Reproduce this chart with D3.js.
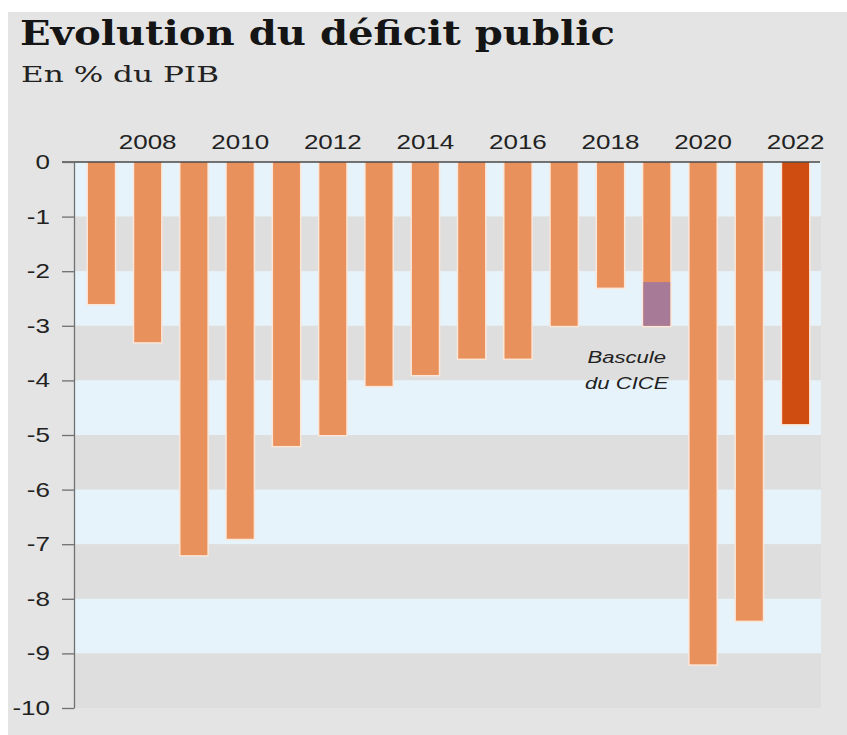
<!DOCTYPE html>
<html>
<head>
<meta charset="utf-8">
<script src="https://cdn.jsdelivr.net/npm/d3@7"></script>
<style>
  body { margin: 0; background: #ffffff; }
  svg { display: block; }
</style>
</head>
<body>
<svg id="chart" width="847" height="735"></svg>
<script>
// Déficit public, en % du PIB
const years = [2007, 2008, 2009, 2010, 2011, 2012, 2013, 2014, 2015, 2016, 2017, 2018, 2019, 2020, 2021, 2022];
const deficit = [-2.6, -3.3, -7.2, -6.9, -5.2, -5.0, -4.1, -3.9, -3.6, -3.6, -3.0, -2.3, -3.0, -9.2, -8.4, -4.8];
// 2019 : part du déficit liée à la bascule du CICE
const ciceYears = [2019];
const deficitHorsCice = [-2.2];
// Prévision
const forecastYears = [2022];
const yearLabels = [2008, 2010, 2012, 2014, 2016, 2018, 2020, 2022];
const yTicks = [0, -1, -2, -3, -4, -5, -6, -7, -8, -9, -10];
const annotationLines = ["Bascule", "du CICE"];

const svg = d3.select("#chart");
const STRETCH = 1.3;

const x = d3.scaleBand().domain(years).range([75, 822]).paddingInner(0.42).paddingOuter(0.28);
const y = d3.scaleLinear().domain([0, -10]).range([162, 708]);

// background panel
svg.append("rect").attr("x", 8).attr("y", 12).attr("width", 839).attr("height", 723).attr("fill", "#e4e4e4");

// title
svg.append("text").attr("x", 20).attr("y", 45)
  .attr("font-family", "'DejaVu Serif', serif").attr("font-weight", "bold").attr("font-size", 33)
  .attr("fill", "#151515").attr("textLength", 595).attr("lengthAdjust", "spacingAndGlyphs")
  .text("Evolution du déficit public");
svg.append("text").attr("x", 21).attr("y", 82)
  .attr("font-family", "'DejaVu Serif', serif").attr("font-size", 23)
  .attr("fill", "#222").attr("textLength", 198).attr("lengthAdjust", "spacingAndGlyphs")
  .text("En % du PIB");

// alternating horizontal bands
const bandStarts = d3.range(0, -10, -1);
svg.append("g").selectAll("rect").data(bandStarts).join("rect")
  .attr("x", 75).attr("width", 746)
  .attr("y", d => y(d)).attr("height", d => y(d - 1) - y(d))
  .attr("fill", (d, i) => i % 2 === 0 ? "#e6f3fb" : "#dedede");

// bars
const data = years.map((yr, i) => ({ year: yr, value: deficit[i] }));
const gBars = svg.append("g");
// pale halo around each bar
gBars.selectAll("rect.halo").data(data).join("rect").attr("class", "halo")
  .attr("x", d => x(d.year) - 1.5).attr("width", x.bandwidth() + 3)
  .attr("y", y(0)).attr("height", d => y(d.value) - y(0) + 1.5)
  .attr("fill", "#fbe6d8");
gBars.selectAll("rect.bar").data(data).join("rect").attr("class", "bar")
  .attr("x", d => x(d.year)).attr("width", x.bandwidth())
  .attr("y", y(0)).attr("height", d => y(d.value) - y(0))
  .attr("fill", d => forecastYears.includes(d.year) ? "#d04d12" : "#e8915c");

// CICE segment
const ciceData = ciceYears.map((yr, i) => ({ year: yr, from: deficitHorsCice[i], to: deficit[years.indexOf(yr)] }));
gBars.selectAll("rect.cice").data(ciceData).join("rect").attr("class", "cice")
  .attr("x", d => x(d.year)).attr("width", x.bandwidth())
  .attr("y", d => y(d.from)).attr("height", d => y(d.to) - y(d.from))
  .attr("fill", "#a77b98");

// zero line
svg.append("line").attr("x1", 62).attr("x2", 820).attr("y1", y(0)).attr("y2", y(0))
  .attr("stroke", "#4a4a4a").attr("stroke-width", 1.6);

// y axis
const yAxis = svg.append("g").attr("transform", "translate(74,0)")
  .call(d3.axisLeft(y).tickValues(yTicks).tickSize(12).tickSizeOuter(0).tickPadding(6.5).tickFormat(d => String(d)));
yAxis.select(".domain").attr("stroke", "#707070").attr("stroke-width", 1.3);
yAxis.selectAll(".tick line").attr("stroke", "#707070").attr("stroke-width", 1.3);
yAxis.selectAll(".tick text")
  .attr("font-family", "'Liberation Sans', Arial, sans-serif").attr("font-size", 20).attr("fill", "#222")
  .attr("transform", `scale(${STRETCH},1)`);

// year labels on top
const xAxis = svg.append("g").attr("transform", `translate(0,${y(0)})`)
  .call(d3.axisTop(x).tickValues(yearLabels).tickSize(0).tickPadding(13));
xAxis.select(".domain").remove();
xAxis.selectAll(".tick text")
  .attr("font-family", "'Liberation Sans', Arial, sans-serif").attr("font-size", 20).attr("fill", "#222")
  .attr("transform", `scale(${STRETCH},1)`);

// annotation
const annX = x(2019) + x.bandwidth() / 2 - 30;
svg.append("g").selectAll("text").data(annotationLines).join("text")
  .attr("transform", (d, i) => `translate(${annX},${363 + i * 26}) scale(${STRETCH},1)`)
  .attr("text-anchor", "middle")
  .attr("font-family", "'Liberation Sans', Arial, sans-serif").attr("font-style", "italic")
  .attr("font-size", 17).attr("fill", "#222")
  .text(d => d);
</script>
</body>
</html>
